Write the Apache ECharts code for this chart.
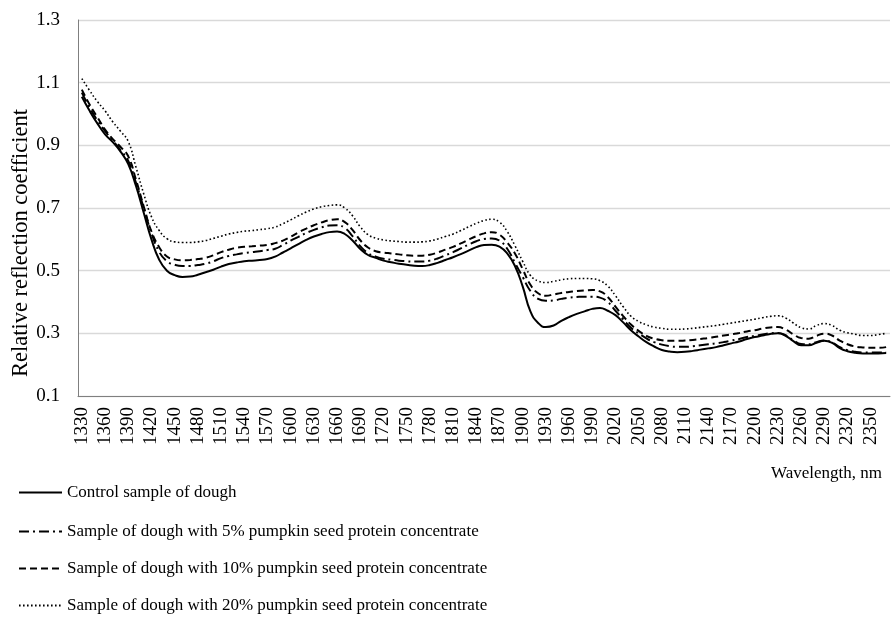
<!DOCTYPE html>
<html>
<head>
<meta charset="utf-8">
<script src="https://cdn.jsdelivr.net/npm/echarts@6/dist/echarts.min.js"></script>
<style>
html,body{margin:0;padding:0;background:#fff;}
#chart{width:891px;height:619px;}
</style>
</head>
<body>
<div id="chart"></div>
<script>
var wavelengths = [1330,1340,1350,1360,1370,1380,1390,1400,1410,1420,1430,1440,1450,1460,1470,1480,1490,1500,1510,1520,1530,1540,1550,1560,1570,1580,1590,1600,1610,1620,1630,1640,1650,1660,1670,1680,1690,1700,1710,1720,1730,1740,1750,1760,1770,1780,1790,1800,1810,1820,1830,1840,1850,1860,1870,1880,1890,1900,1910,1920,1930,1940,1950,1960,1970,1980,1990,2000,2010,2020,2030,2040,2050,2060,2070,2080,2090,2100,2110,2120,2130,2140,2150,2160,2170,2180,2190,2200,2210,2220,2230,2240,2250,2260,2270,2280,2290,2300,2310,2320,2330,2340,2350,2360,2370];

var control = [1.055,1.01,0.97,0.935,0.91,0.88,0.84,0.77,0.685,0.60,0.535,0.50,0.486,0.48,0.481,0.487,0.495,0.503,0.513,0.521,0.526,0.530,0.532,0.534,0.537,0.545,0.558,0.571,0.585,0.598,0.609,0.617,0.623,0.625,0.617,0.596,0.569,0.550,0.541,0.532,0.527,0.522,0.519,0.516,0.515,0.518,0.525,0.534,0.543,0.553,0.564,0.575,0.582,0.583,0.577,0.555,0.515,0.45,0.37,0.333,0.32,0.325,0.34,0.352,0.362,0.370,0.378,0.381,0.372,0.358,0.335,0.310,0.290,0.272,0.258,0.247,0.242,0.240,0.241,0.244,0.248,0.252,0.256,0.262,0.268,0.274,0.282,0.288,0.293,0.298,0.300,0.292,0.275,0.262,0.262,0.270,0.276,0.270,0.253,0.243,0.238,0.236,0.236,0.236,0.237];

var pct5 = [1.068,1.02,0.98,0.945,0.915,0.885,0.85,0.78,0.70,0.62,0.56,0.53,0.519,0.515,0.515,0.518,0.522,0.530,0.540,0.547,0.552,0.556,0.559,0.562,0.566,0.570,0.582,0.596,0.608,0.620,0.630,0.638,0.644,0.645,0.636,0.610,0.578,0.556,0.545,0.538,0.535,0.532,0.530,0.529,0.529,0.532,0.539,0.549,0.559,0.571,0.583,0.594,0.601,0.603,0.596,0.570,0.525,0.480,0.435,0.410,0.404,0.405,0.410,0.414,0.416,0.417,0.417,0.414,0.400,0.372,0.345,0.318,0.300,0.284,0.272,0.264,0.259,0.257,0.257,0.259,0.262,0.265,0.268,0.272,0.277,0.282,0.288,0.292,0.296,0.300,0.301,0.294,0.278,0.266,0.265,0.272,0.277,0.271,0.256,0.246,0.241,0.239,0.239,0.239,0.240];

var pct10 = [1.078,1.03,0.99,0.95,0.92,0.895,0.865,0.79,0.705,0.625,0.575,0.545,0.536,0.533,0.534,0.537,0.541,0.549,0.559,0.567,0.573,0.576,0.578,0.580,0.582,0.588,0.596,0.608,0.622,0.634,0.645,0.654,0.661,0.664,0.655,0.630,0.597,0.574,0.562,0.558,0.555,0.552,0.549,0.548,0.548,0.551,0.558,0.567,0.576,0.587,0.599,0.610,0.619,0.623,0.615,0.590,0.555,0.505,0.455,0.428,0.420,0.424,0.429,0.432,0.435,0.437,0.438,0.434,0.416,0.385,0.355,0.328,0.308,0.292,0.283,0.278,0.276,0.276,0.277,0.279,0.282,0.285,0.289,0.293,0.297,0.301,0.306,0.310,0.315,0.319,0.320,0.312,0.297,0.285,0.283,0.292,0.299,0.293,0.277,0.265,0.258,0.255,0.254,0.254,0.256];

var pct20 = [1.113,1.075,1.04,1.01,0.975,0.945,0.912,0.83,0.745,0.672,0.628,0.602,0.592,0.590,0.590,0.592,0.596,0.603,0.610,0.617,0.622,0.626,0.628,0.631,0.634,0.639,0.650,0.662,0.675,0.687,0.697,0.704,0.708,0.710,0.700,0.675,0.640,0.615,0.604,0.598,0.595,0.593,0.591,0.591,0.592,0.595,0.601,0.609,0.617,0.628,0.640,0.651,0.660,0.664,0.655,0.625,0.580,0.530,0.485,0.467,0.462,0.466,0.471,0.474,0.475,0.475,0.474,0.468,0.451,0.420,0.385,0.355,0.338,0.327,0.320,0.316,0.313,0.313,0.314,0.316,0.319,0.322,0.325,0.329,0.333,0.337,0.341,0.345,0.350,0.354,0.356,0.349,0.333,0.318,0.314,0.325,0.331,0.325,0.310,0.302,0.297,0.293,0.293,0.296,0.300];

var seriesNames = [
  'Control sample of dough',
  'Sample of dough with 5% pumpkin seed protein concentrate',
  'Sample of dough with 10% pumpkin seed protein concentrate',
  'Sample of dough with 20% pumpkin seed protein concentrate'
];
var yTicks = [0.1, 0.3, 0.5, 0.7, 0.9, 1.1, 1.3];
var legendTops = [484, 523, 560, 597];

var serif = '"Liberation Serif", "Times New Roman", serif';
var chart = echarts.init(document.getElementById('chart'), null, {renderer: 'canvas'});

function mk(name, data, lineStyle) {
  return {
    name: name, type: 'line', data: data, smooth: true, symbol: 'none',
    lineStyle: lineStyle, itemStyle: {color: '#000'}, animation: false
  };
}

var legends = seriesNames.map(function (n, i) {
  return {
    orient: 'vertical', left: 18, top: legendTops[i], padding: 0,
    itemWidth: 43, itemHeight: 14, itemGap: 0,
    itemStyle: {opacity: 0},
    textStyle: {fontFamily: serif, fontSize: 17, color: '#000'},
    data: [n]
  };
});

chart.setOption({
  backgroundColor: '#fff',
  animation: false,
  title: {
    text: 'Wavelength, nm', right: 4, top: 460,
    textStyle: {fontFamily: serif, fontSize: 17, fontWeight: 'normal', color: '#000'}
  },
  graphic: [{
    type: 'text', x: 21, y: 243, rotation: Math.PI / 2,
    style: {
      text: 'Relative reflection coefficient', fill: '#000',
      font: '22.5px ' + serif, align: 'center', verticalAlign: 'middle'
    }
  }],
  grid: {left: 78, right: 1, top: 20, bottom: 223, containLabel: false},
  legend: legends,
  xAxis: {
    type: 'category', data: wavelengths, boundaryGap: true,
    axisLine: {lineStyle: {color: '#7f7f7f', width: 1}},
    axisTick: {show: false},
    axisLabel: {interval: 2, rotate: 90, margin: 11, fontFamily: serif, fontSize: 19, color: '#000'},
    splitLine: {show: false}
  },
  yAxis: {
    type: 'value', min: yTicks[0], max: yTicks[yTicks.length - 1], interval: 0.2,
    axisLine: {show: true, lineStyle: {color: '#7f7f7f', width: 1}},
    axisTick: {show: false},
    axisLabel: {margin: 18, fontFamily: serif, fontSize: 19, color: '#000',
      formatter: function (v) { return v.toFixed(1); }},
    splitLine: {show: true, lineStyle: {color: '#d9d9d9', width: 1.3}}
  },
  series: [
    mk(seriesNames[0], control, {color: '#000', width: 2, type: 'solid'}),
    mk(seriesNames[1], pct5, {color: '#000', width: 2, type: [10, 4, 2, 4]}),
    mk(seriesNames[2], pct10, {color: '#000', width: 2, type: [7, 4]}),
    mk(seriesNames[3], pct20, {color: '#000', width: 1.6, type: [1.6, 2.4]})
  ]
});
</script>
</body>
</html>
